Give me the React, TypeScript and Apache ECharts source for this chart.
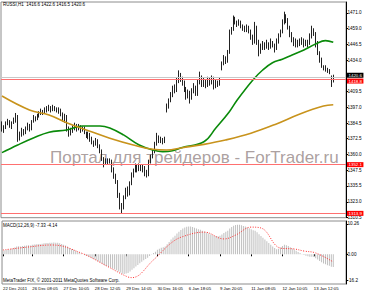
import React, { useEffect, useRef } from 'react';
import * as echarts from 'echarts';

const FONT = '"Liberation Sans", Arial, sans-serif';

// bar slots on the time axis (170 H1 bars + right shift)
const slotCount = 176;
const categories: string[] = Array.from({ length: slotCount }, (_, i) => String(i));

const xTickIndex = [0, 15, 31, 47, 63, 79, 95, 111, 127, 143, 159];
const xTickLabels = [
  '22 Dec 2011', '26 Dec 08:05', '27 Dec 10:05', '28 Dec 12:05', '29 Dec 14:05',
  '30 Dec 16:05', '6 Jan 18:05', '9 Jan 20:05', '11 Jan 08:05', '12 Jan 10:05', '13 Jan 12:05',
];

const priceTicks = [1310.5, 1323.0, 1335.5, 1347.5, 1360.0, 1372.5, 1384.5, 1397.0, 1409.5, 1434.0, 1446.5, 1459.0, 1471.0];
const priceMin = 1310.5;
const priceMax = 1479.6;

// [open, close, low, high]
const candles: number[][] = [
  [1384,1380,1378,1386],[1380,1381,1377,1383],[1381,1384,1380,1386],[1384,1386,1383,1388],[1386,1382,1381,1387],
  [1382,1385,1380,1386],[1385,1387,1384,1389],[1387,1390,1385,1392.6],[1390,1372,1370,1391],[1372,1376,1371,1378],
  [1376,1379,1374,1381],[1379,1377,1375,1380],[1377,1381,1376,1382],[1381,1383,1379,1385],[1383,1380,1378,1384],
  [1380,1386,1379,1387],[1386,1389,1385,1391],[1389,1388,1386,1390],[1388,1390,1387,1392],[1390,1392,1389,1394],
  [1392,1394,1391,1396],[1394,1393,1391,1395],[1393,1395,1392,1397],[1395,1396,1393,1398],[1396,1397,1394,1399],
  [1397,1395,1393,1398],[1395,1397,1394,1399],[1397,1396,1394,1398],[1396,1394,1393,1397],[1394,1395,1392,1397],
  [1395,1392,1390,1396],[1392,1388,1386,1393],[1388,1390,1385,1392],[1390,1380,1378,1391],[1380,1376,1374,1382],
  [1376,1379,1375,1381],[1379,1381,1377,1383],[1381,1383,1379,1385],[1383,1380,1378,1384],[1380,1382,1379,1384],
  [1382,1379,1377,1383],[1379,1381,1378,1382],[1381,1377,1376,1382],[1377,1375,1373,1378],[1375,1376,1372,1378],
  [1376,1372,1370,1377],[1372,1370,1368,1374],[1370,1368,1366,1371],[1368,1371,1367,1373],[1371,1367,1365,1372],
  [1367,1362,1361,1368],[1362,1357,1355,1364],[1357,1353,1350,1358],[1353,1356,1352,1357],[1356,1354,1352,1357],
  [1354,1355,1353,1357],[1355,1348,1346,1356],[1348,1343,1341,1350],[1343,1339,1337,1345],[1339,1328,1326,1340],
  [1328,1320,1317,1330],[1320,1318,1314,1322],[1318,1326,1317,1328],[1326,1331,1325,1334],[1331,1329,1327,1335],
  [1329,1337,1328,1339],[1337,1343,1336,1346],[1343,1347,1342,1349],[1347,1350,1346,1353],[1350,1348,1346,1352],
  [1348,1351,1347,1353],[1351,1349,1347,1352],[1349,1350,1346,1352],[1350,1346,1343,1351],[1346,1344,1342,1348],
  [1344,1354,1343,1356],[1354,1358,1353,1360],[1358,1362,1357,1364],[1362,1368,1361,1370],[1368,1374,1367,1377],
  [1374,1371,1369,1375],[1371,1372,1369,1374],[1372,1370,1368,1373],[1370,1372,1369,1374],[1394,1398,1393,1400],
  [1398,1402,1396,1404],[1402,1407,1401,1409],[1407,1412,1405,1414],[1412,1410,1408,1415],[1410,1418,1409,1420],
  [1418,1422,1416,1426],[1422,1419,1417,1424],[1419,1416,1414,1421],[1416,1411,1409,1418],[1411,1406,1403,1413],
  [1406,1409,1404,1411],[1409,1404,1400,1410],[1404,1410,1403,1412],[1410,1413,1408,1416],[1413,1407,1406,1414],
  [1407,1417,1406,1419],[1417,1421,1415,1425],[1421,1415,1413,1422],[1415,1418,1413,1420],[1418,1414,1412,1419],
  [1414,1419,1413,1421],[1419,1416,1414,1420],[1416,1420,1415,1422],[1420,1413,1411,1421],[1413,1417,1412,1419],
  [1417,1415,1413,1418],[1415,1418,1414,1420],[1428,1431,1426,1433],[1431,1436,1430,1438],[1436,1433,1431,1437],
  [1433,1438,1432,1442],[1440,1456,1439,1458],[1456,1458,1454,1460],[1458,1466,1457,1469],[1466,1464,1462,1468],
  [1464,1462,1460,1465],[1462,1464,1461,1466],[1464,1461,1459,1465],[1461,1459,1457,1462],[1459,1458,1456,1461],
  [1458,1460,1456,1462],[1460,1457,1455,1461],[1457,1452,1450,1458],[1452,1448,1446,1454],[1448,1460,1447,1464],
  [1460,1448,1446,1461],[1448,1440,1437,1450],[1440,1444,1439,1447],[1444,1446,1442,1449],[1446,1445,1442,1448],
  [1445,1447,1443,1450],[1447,1444,1442,1448],[1444,1448,1443,1451],[1448,1446,1444,1449],[1446,1443,1440,1447],
  [1443,1449,1442,1451],[1449,1453,1447,1455],[1453,1456,1452,1458],[1456,1464,1455,1466],[1464,1469,1462,1472],
  [1469,1466,1463,1470],[1466,1460,1458,1467],[1460,1455,1452,1461],[1455,1450,1448,1456],[1450,1447,1445,1452],
  [1447,1449,1444,1451],[1449,1446,1444,1450],[1446,1448,1445,1451],[1448,1450,1446,1452],[1450,1446,1444,1451],
  [1446,1449,1445,1450],[1449,1447,1444,1450],[1447,1452,1446,1455],[1452,1458,1451,1461],[1458,1455,1453,1459],
  [1455,1448,1444,1456],[1448,1440,1438,1449],[1440,1434,1432,1441],[1434,1429,1428,1436],[1429,1428,1426,1430],
  [1428,1427,1425,1430],[1427,1426,1424,1428],[1426,1425,1423,1427],[1421,1416.6,1413,1422],[1416.6,1420.6,1416.5,1422.6],
];

// moving averages read at sample bars: [barIndex, value]
const greenMA: number[][] = [
  [0,1361.5],[8,1367.5],[16,1373],[24,1377.5],[33,1379.3],[41,1382.4],[50,1382.4],[55,1380.8],[62,1375.4],
  [70,1367.5],[77,1363.6],[82,1362.3],[87,1363],[92,1365.5],[103,1370],[109,1380.6],[116,1393.6],[120,1402.8],
  [128,1418.5],[133,1426.3],[138,1432],[143,1434.7],[148,1438],[154,1442],[160,1446.7],[165,1449.3],[169,1448],
];
const goldMA: number[][] = [
  [0,1405.9],[14,1395],[24,1391],[33,1385],[43,1379.3],[55,1372.8],[67,1367.5],[77,1364.1],[84,1363.6],
  [92,1365.4],[103,1368],[114,1371.4],[127,1376.7],[140,1384],[152,1391.8],[164,1398],[169,1399],
];

const bidPrice = 1420.6;
const redLevels = [1418.8, 1352.1, 1313.9];

// MACD histogram per bar
const macdMain: number[] = [
  1.2,1.4,1.5,1.6,1.8,2.0,2.3,2.6,2.7,2.6,
  2.8,2.9,3.0,3.1,3.0,3.2,3.3,3.4,3.5,3.5,
  3.6,3.7,3.8,3.8,3.9,3.9,4.0,3.9,3.9,3.7,
  3.5,3.2,3.0,2.6,2.1,1.8,1.5,1.2,0.9,0.6,
  0.3,0.0,-0.3,-0.6,-0.9,-1.2,-1.5,-1.8,-2.1,-2.5,
  -2.9,-3.3,-3.7,-4.0,-4.3,-4.5,-4.8,-5.1,-5.4,-5.8,
  -6.2,-6.6,-6.7,-6.5,-6.3,-5.8,-5.2,-4.7,-4.1,-3.6,
  -3.0,-2.5,-2.0,-1.6,-1.2,-0.6,-0.1,0.4,0.9,1.5,
  1.9,2.2,2.4,2.6,3.4,4.2,5.0,5.7,6.3,7.0,
  7.6,8.2,8.7,9.1,9.3,9.4,9.4,9.2,9.0,8.7,
  8.5,8.3,8.0,7.7,7.4,7.1,6.8,6.6,6.3,6.2,
  6.1,6.3,6.7,7.2,7.6,8.0,8.7,9.2,9.7,9.9,
  10.0,10.0,9.8,9.6,9.4,9.1,8.8,8.5,8.1,8.0,
  7.5,6.8,6.2,5.6,5.0,4.4,3.8,3.2,2.6,2.1,
  1.7,1.9,2.3,2.8,3.2,3.1,2.8,2.4,2.0,1.6,
  1.2,0.8,0.4,0.1,-0.2,-0.5,-0.7,-0.8,-0.8,-0.9,
  -1.3,-1.8,-2.3,-2.7,-3.1,-3.4,-3.7,-3.9,-4.2,-4.3,
];
// signal line read at sample bars
const macdSignal: number[][] = [
  [0,1.45],[12,2.4],[25,3.15],[40,0.44],[54,-4.3],[64,-7.7],[66,-7.9],[77,-1.9],[86,3.8],[92,6.0],
  [103,7.5],[113,5.2],[119,6.5],[127,9.2],[132,8.9],[142,2.1],[149,1.8],[154,1.1],[160,0.44],[169,-2.6],
];
const macdMin = -10.06;
const macdMax = 11.27;
const macdTickValues = [-8.94, 0, 10.26];
const macdTickLabels = ['-16.2', '0.00', '10.26'];

const titleText = 'RUSSI,H1  1416.6 1422.6 1416.5 1420.6';
const macdTitle = 'MACD(12,26,9) -7.33 -4.14';
const footerText = 'MetaTrader FIX, \u00a9 2001-2011 MetaQuotes Software Corp.';
const watermark = '\u041f\u043e\u0440\u0442\u0430\u043b \u0434\u043b\u044f \u0442\u0440\u0435\u0439\u0434\u0435\u0440\u043e\u0432 - ForTrader.ru';

export default function App() {
  const ref = useRef<HTMLDivElement>(null);
  useEffect(() => {
    if (!ref.current) return;
    const chart = echarts.init(ref.current, null, { renderer: 'svg' });
    const tickSet = new Set(xTickIndex);
    const levelLine = (v: number, color: string, bg: string, dy: number) => ({
      yAxis: v,
      lineStyle: { color, width: 1, type: 'solid' },
      label: {
        show: true, position: 'end', distance: 1, offset: [0, dy],
        formatter: () => v.toFixed(1),
        color: '#fff', backgroundColor: bg, fontSize: 4.4, lineHeight: 5, fontFamily: FONT,
        padding: [0, 1.5, 0, 1.5],
      },
    });
    chart.setOption({
      animation: false,
      backgroundColor: '#fff',
      textStyle: { fontFamily: FONT },
      grid: [
        { left: 1, top: 2, width: 345, height: 215.7, show: true, borderColor: '#8c8c8c', borderWidth: 1 },
        { left: 1, top: 221, width: 345, height: 63, show: true, borderColor: '#8c8c8c', borderWidth: 1 },
      ],
      xAxis: [
        {
          type: 'category', gridIndex: 0, data: categories, boundaryGap: true,
          axisLine: { show: false }, axisTick: { show: false }, axisLabel: { show: false },
        },
        {
          type: 'category', gridIndex: 1, data: categories, boundaryGap: true,
          axisLine: { show: false },
          axisTick: {
            show: true, alignWithLabel: true, length: 2,
            interval: (i: number) => tickSet.has(i), lineStyle: { color: '#000' },
          },
          axisLabel: {
            interval: (i: number) => tickSet.has(i),
            formatter: (_v: string, i: number) => {
              const k = xTickIndex.indexOf(i);
              return k >= 0 ? xTickLabels[k] : '';
            },
            align: 'left', fontSize: 4.3, margin: 2, color: '#000', fontFamily: FONT,
          },
        },
      ],
      yAxis: [
        {
          type: 'value', gridIndex: 0, position: 'right', min: priceMin, max: priceMax, scale: true,
          axisLine: { show: true, lineStyle: { color: '#000' } },
          axisTick: { show: true, length: 2, customValues: priceTicks, lineStyle: { color: '#000' } },
          axisLabel: {
            customValues: priceTicks, formatter: (v: number) => v.toFixed(1),
            fontSize: 4.6, margin: 1.5, color: '#000', fontFamily: FONT,
          },
          splitLine: { show: false },
        },
        {
          type: 'value', gridIndex: 1, position: 'right', min: macdMin, max: macdMax,
          axisLine: { show: true, lineStyle: { color: '#000' } },
          axisTick: { show: true, length: 2, customValues: macdTickValues, lineStyle: { color: '#000' } },
          axisLabel: {
            customValues: macdTickValues,
            formatter: (v: number) => {
              const k = macdTickValues.findIndex((t) => Math.abs(t - v) < 1e-6);
              return k >= 0 ? macdTickLabels[k] : '';
            },
            fontSize: 4.6, margin: 1.5, color: '#000', fontFamily: FONT,
          },
          splitLine: { show: false },
        },
      ],
      graphic: [
        {
          type: 'text', x: 50, y: 157, z: 0,
          style: { text: watermark, fontSize: 17, fontFamily: FONT, fill: 'rgba(150,135,135,0.8)', textVerticalAlign: 'middle' },
        },
        {
          type: 'text', x: 3, y: 4.8, z: 10,
          style: { text: titleText, fontSize: 4.5, fontFamily: FONT, fill: '#000', textVerticalAlign: 'middle' },
        },
        {
          type: 'text', x: 3, y: 225.8, z: 10,
          style: { text: macdTitle, fontSize: 4.5, fontFamily: FONT, fill: '#000', textVerticalAlign: 'middle' },
        },
        {
          type: 'text', x: 3, y: 280.6, z: 10,
          style: { text: footerText, fontSize: 4.5, fontFamily: FONT, fill: '#000', textVerticalAlign: 'middle' },
        },
      ],
      series: [
        {
          type: 'candlestick', xAxisIndex: 0, yAxisIndex: 0, data: candles, barWidth: 1,
          itemStyle: { color: '#fff', color0: '#000', borderColor: '#222', borderColor0: '#222', borderWidth: 1 },
          markLine: {
            symbol: ['none', 'none'], silent: true, animation: false,
            data: [
              levelLine(bidPrice, '#c8c8c8', '#000', -2),
              ...redLevels.map((v, k) => levelLine(v, '#ff7070', '#ff0000', k === 0 ? 1.5 : 0)),
            ],
          },
        },
        {
          type: 'line', xAxisIndex: 0, yAxisIndex: 0, data: greenMA, smooth: 0.4, showSymbol: false,
          lineStyle: { color: '#0a8a0a', width: 1.6 }, z: 3,
        },
        {
          type: 'line', xAxisIndex: 0, yAxisIndex: 0, data: goldMA, smooth: 0.4, showSymbol: false,
          lineStyle: { color: '#c8931c', width: 1.6 }, z: 3,
        },
        {
          type: 'bar', xAxisIndex: 1, yAxisIndex: 1, data: macdMain, barWidth: 1,
          itemStyle: { color: '#c0c0c0' },
        },
        {
          type: 'line', xAxisIndex: 1, yAxisIndex: 1, data: macdSignal, smooth: 0.4, showSymbol: false,
          lineStyle: { color: '#ff3030', width: 1, type: [1, 1.5] },
        },
      ],
    });
    return () => chart.dispose();
  }, []);
  return (
    <div
      ref={ref}
      style={{ position: 'fixed', left: 0, top: 0, width: 366, height: 293, background: '#fff' }}
    />
  );
}
